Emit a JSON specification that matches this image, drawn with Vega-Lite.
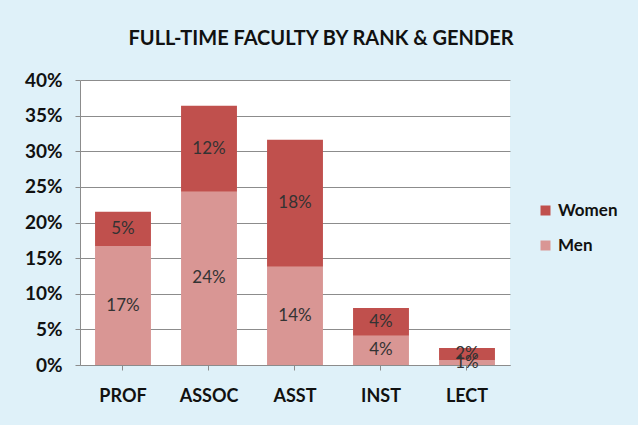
{
  "$schema": "https://vega.github.io/schema/vega-lite/v6.json",
  "autosize": {"type": "none"},
  "padding": {"left": 80, "top": 80, "right": 128, "bottom": 60},
  "width": 430,
  "height": 285,
  "background": "#DFF1F9",
  "title": {
    "text": "FULL-TIME FACULTY BY RANK & GENDER",
    "font": "Lato",
    "fontSize": 20,
    "fontWeight": "bold",
    "color": "#111111",
    "anchor": "middle",
    "dx": 26,
    "offset": 22
  },
  "data": {
    "values": [
      {"rank": "PROF", "gender": "Men", "share": 0.167},
      {"rank": "PROF", "gender": "Women", "share": 0.048},
      {"rank": "ASSOC", "gender": "Men", "share": 0.243},
      {"rank": "ASSOC", "gender": "Women", "share": 0.121},
      {"rank": "ASST", "gender": "Men", "share": 0.138},
      {"rank": "ASST", "gender": "Women", "share": 0.178},
      {"rank": "INST", "gender": "Men", "share": 0.041},
      {"rank": "INST", "gender": "Women", "share": 0.039},
      {"rank": "LECT", "gender": "Men", "share": 0.007},
      {"rank": "LECT", "gender": "Women", "share": 0.017}
    ]
  },
  "transform": [
    {"stack": "share", "groupby": ["rank"], "sort": [{"field": "gender", "order": "ascending"}], "as": ["lo", "hi"]},
    {"calculate": "(datum.lo + datum.hi) / 2", "as": "mid"}
  ],
  "encoding": {
    "x": {
      "field": "rank",
      "type": "nominal",
      "sort": ["PROF", "ASSOC", "ASST", "INST", "LECT"],
      "scale": {"paddingInner": 0.35, "paddingOuter": 0.175},
      "axis": {
        "title": null,
        "labelAngle": 0,
        "labelFont": "Lato",
        "labelFontSize": 18,
        "labelFontWeight": "bold",
        "labelColor": "#111111",
        "labelPadding": 17,
        "domainColor": "#8C8C8C",
        "tickColor": "#8C8C8C",
        "tickSize": 5,
        "grid": false
      }
    },
    "y": {
      "field": "lo",
      "type": "quantitative",
      "scale": {"domain": [0, 0.4], "nice": false},
      "axis": {
        "title": null,
        "format": ".0%",
        "values": [0, 0.05, 0.1, 0.15, 0.2, 0.25, 0.3, 0.35, 0.4],
        "labelOverlap": false,
        "labelFont": "Lato",
        "labelFontSize": 19,
        "labelFontWeight": "bold",
        "labelColor": "#111111",
        "labelPadding": 13,
        "domainColor": "#8C8C8C",
        "tickColor": "#8C8C8C",
        "tickSize": 5,
        "gridColor": "#8C8C8C",
        "gridOpacity": 1
      }
    }
  },
  "layer": [
    {
      "mark": {"type": "bar"},
      "encoding": {
        "y2": {"field": "hi"},
        "color": {
          "field": "gender",
          "type": "nominal",
          "scale": {"domain": ["Women", "Men"], "range": ["#C0504D", "#D99694"]},
          "legend": {
            "title": null,
            "orient": "none",
            "legendX": 457,
            "legendY": 122,
            "symbolType": "square",
            "symbolSize": 100,
            "symbolStrokeWidth": 0,
            "labelFont": "Lato",
            "labelFontSize": 17,
            "labelFontWeight": "bold",
            "labelColor": "#111111",
            "rowPadding": 17,
            "labelOffset": 4
          }
        }
      }
    },
    {
      "mark": {"type": "text", "font": "Lato", "fontSize": 17, "color": "#333333", "baseline": "middle"},
      "encoding": {
        "y": {"field": "mid", "type": "quantitative"},
        "text": {"field": "share", "type": "quantitative", "format": ".0%"}
      }
    }
  ],
  "config": {
    "view": {"fill": "white", "stroke": null}
  }
}
